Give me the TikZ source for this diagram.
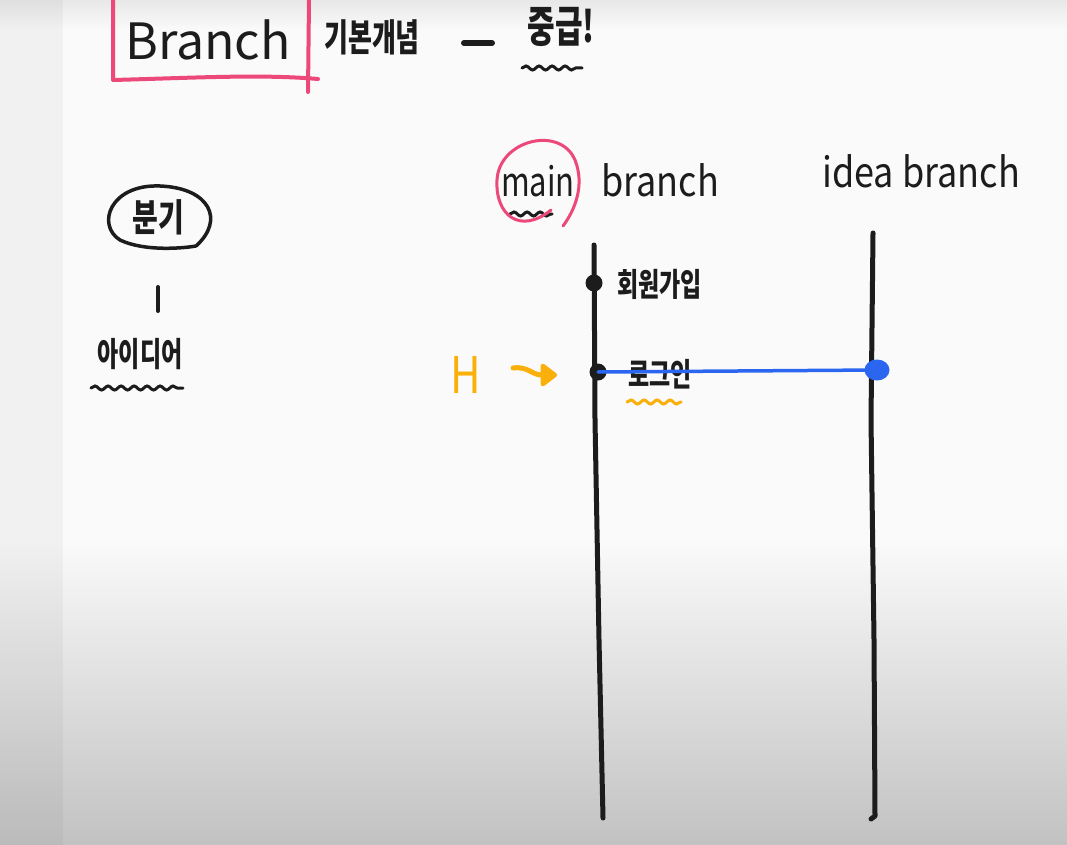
\documentclass[tikz,border=0pt]{standalone}
\usepackage{graphicx}
\usepackage{fontspec}
\setmainfont{Noto Sans CJK KR}
\usetikzlibrary{decorations.pathmorphing,arrows.meta,shapes.geometric}
\definecolor{pinkc}{RGB}{236,72,122}
\definecolor{bluec}{RGB}{42,102,240}
\definecolor{orangec}{RGB}{250,176,10}
\definecolor{inkc}{RGB}{28,28,28}
\newcommand{\fs}[1]{\fontsize{#1}{#1}\selectfont}
\newcommand{\kr}[3]{\scalebox{1}[#2]{\fs{#1}\bfseries #3}}
\newcommand{\la}[3]{\scalebox{1}[#2]{\fs{#1}#3}}
\tikzset{
  ink/.style={draw=inkc, line width=5pt, line cap=round, line join=round},
  lbl/.style={inner sep=0pt, text=inkc},
  dot/.style={circle, fill=inkc, minimum size=17pt, inner sep=0pt},
  bdot/.style={ellipse, fill=bluec, minimum width=25pt, minimum height=21pt, inner sep=0pt},
  squig/.style={draw=inkc, line width=3pt, line cap=round, decorate,
    decoration={snake, amplitude=2pt, segment length=13pt}},
  osquig/.style={squig, draw=orangec},
  pinkline/.style={draw=pinkc, line width=4pt, line cap=round, line join=round},
}
\begin{document}
\begin{tikzpicture}[x=1pt,y=-1pt]
\useasboundingbox (0,0) rectangle (1067,845);
% background
\fill[white!98!black] (0,0) rectangle (1067,845);
\shade[top color=white!98!black, bottom color=white!76!black] (0,540) rectangle (1067,845);
\shade[top color=white!91!black, bottom color=white!98!black] (0,0) rectangle (1067,30);
\fill[black, opacity=0.035] (0,0) rectangle (63,845);

% title
\node[lbl] (title) at (208,40) {\fs{50}Branch};
\draw[pinkline] (113,0) -- (113,80) .. controls (190,78) and (260,74) .. (318,79);
\draw[pinkline] (309,0) -- (308,92);
\node[lbl] (concept) at (372,37) {\kr{26}{1.45}{기본개념}};
\draw[ink, line width=6pt] (464,43) -- (492,43);
\node[lbl] (level) at (561,27) {\kr{30}{1.45}{중급!}};
\draw[squig] (522,68) -- (582,68);

% left side
\node[lbl] (bungi) at (158,217) {\kr{28}{1.35}{분기}};
\draw[ink, line width=3.5pt] (196,246) .. controls (225,220) and (210,188) .. (160,186)
  .. controls (110,184) and (96,225) .. (120,240) .. controls (145,252) and (185,248) .. (196,246);
\draw[ink, line width=4pt] (158,287) -- (158,311);
\node[lbl] (idea) at (140,354) {\kr{23}{1.45}{아이디어}};
\draw[squig] (91,388) -- (183,388);

% branch headers
\node[lbl] (main) at (538,181) {\la{31}{1.3}{main}};
\draw[squig] (510,214) -- (552,214);
\draw[pinkline, line width=3pt] (551,210) .. controls (520,235) and (495,215) .. (497,180)
  .. controls (499,140) and (560,125) .. (575,160) .. controls (585,185) and (575,210) .. (563,226);
\node[lbl] (mainb) at (660,180) {\la{36}{1.15}{branch}};
\node[lbl] (ideab) at (921,171) {\la{36}{1.15}{idea branch}};

% branch lines
\coordinate (mtop) at (594,245);
\coordinate (m1) at (595,420);
\coordinate (m2) at (599,640);
\coordinate (mbot) at (603,818);
\draw[ink] (mtop) -- (m1) -- (m2) -- (mbot);
\coordinate (itop) at (873,233);
\coordinate (i1) at (871,420);
\coordinate (i2) at (874,640);
\coordinate (ibot) at (875,816);
\coordinate (ihook) at (871,819);
\draw[ink] (itop) -- (i1) -- (i2) -- (ibot) -- (ihook);

% commits
\node[dot] (c1) at (594,283) {};
\node[lbl, anchor=west] (signup) at (617,284) {\kr{23}{1.4}{회원가입}};
\node[dot] (c2) at (598,372) {};
\node[lbl, anchor=west] (login) at (628,374) {\kr{23}{1.4}{로그인}};
\draw[osquig] (627,402) -- (681,402);
\node[bdot] (c3) at (877,370) {};
\draw[draw=bluec, line width=3.5pt, line cap=round] (c2.center) -- (c3.center);

% HEAD
\node[inner sep=0pt, text=orangec] (H) at (466,375) {\la{42}{1.2}{H}};
\coordinate (hs) at (513,368);
\coordinate (he) at (557,375);
\draw[draw=orangec, line width=5pt, line cap=round, -{Triangle[round, length=18pt, width=26pt]}]
  (hs) .. controls (528,366) and (532,375) .. (he);
\end{tikzpicture}
\end{document}
